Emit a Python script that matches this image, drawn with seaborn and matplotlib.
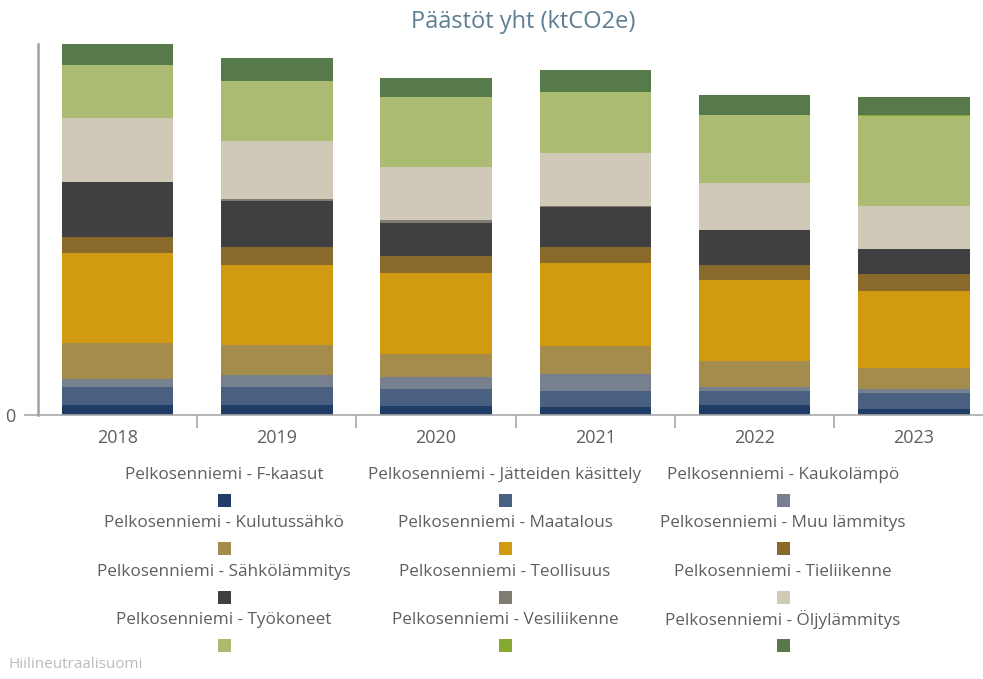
import matplotlib
matplotlib.use("Agg")
import matplotlib.pyplot as plt
import seaborn as sns
import numpy as np
from matplotlib.patches import Rectangle

years = ["2018", "2019", "2020", "2021", "2022", "2023"]

f_kaasut      = [0.97, 0.97, 0.93, 0.77, 0.97, 0.63]
jatteet       = [1.80, 1.80, 1.64, 1.66, 1.46, 1.54]
kaukolampo    = [0.86, 1.20, 1.26, 1.67, 0.34, 0.40]
kulutussahko  = [3.54, 3.00, 2.24, 2.83, 2.66, 2.13]
maatalous     = [9.06, 8.00, 8.16, 8.24, 8.07, 7.73]
muu_lammitys  = [1.60, 1.86, 1.67, 1.66, 1.50, 1.67]
sahkolammitys = [5.44, 4.55, 3.30, 4.00, 3.50, 2.47]
teollisuus    = [0.05, 0.25, 0.30, 0.10, 0.05, 0.05]
tieliikenne   = [6.40, 5.77, 5.33, 5.24, 4.67, 4.33]
tyokoneet     = [5.30, 6.00, 6.94, 6.16, 6.76, 9.00]
vesiliikenne  = [0.02, 0.02, 0.02, 0.02, 0.02, 0.02]
oljylammitys  = [2.10, 2.27, 1.96, 2.17, 2.00, 1.87]

series_names = [
    "Pelkosenniemi - F-kaasut", "Pelkosenniemi - Jätteiden käsittely", "Pelkosenniemi - Kaukolämpö",
    "Pelkosenniemi - Kulutussähkö", "Pelkosenniemi - Maatalous", "Pelkosenniemi - Muu lämmitys",
    "Pelkosenniemi - Sähkölämmitys", "Pelkosenniemi - Teollisuus", "Pelkosenniemi - Tieliikenne",
    "Pelkosenniemi - Työkoneet", "Pelkosenniemi - Vesiliikenne", "Pelkosenniemi - Öljylämmitys",
]
series_values = [f_kaasut, jatteet, kaukolampo, kulutussahko, maatalous, muu_lammitys,
                 sahkolammitys, teollisuus, tieliikenne, tyokoneet, vesiliikenne, oljylammitys]
series_colors = ["#1f3d66", "#4a6080", "#76808e", "#a38c4c", "#d19a10", "#8a6a2a",
                 "#404042", "#7f7a72", "#d1c9b8", "#abbb72", "#86aa30", "#577a4a"]

sns.set_theme(style="white")
plt.rcParams['font.family'] = ['Open Sans', 'DejaVu Sans']

W, H = 983, 679
fig = plt.figure(figsize=(W / 100, H / 100), dpi=100)
ax = fig.add_axes([38 / W, 264 / H, (993.5 - 38) / W, 371 / H])

bottom = np.zeros(len(years))
for name, vals, col in zip(series_names, series_values, series_colors):
    sns.barplot(x=years, y=vals, bottom=bottom, color=col, saturation=1,
                width=0.7, ax=ax, linewidth=0)
    bottom = bottom + np.array(vals)

ax.set_xlim(-0.5, 5.5)
ax.set_ylim(0, 37.1)
ax.set_xlabel("")
ax.set_ylabel("")

for s in ["top", "right"]:
    ax.spines[s].set_visible(False)
ax.spines["left"].set_color("#a0a0a0")
ax.spines["left"].set_linewidth(1.8)
ax.spines["bottom"].set_color("#a8a8a8")
ax.spines["bottom"].set_linewidth(1.2)

text_col = "#605e5c"
ax.set_yticks([0])
ax.set_yticklabels(["0"], color=text_col, fontsize=13)
ax.tick_params(axis="y", length=10, width=1.2, color="#a8a8a8", direction="out", pad=6, left=True)

ax.set_xticks(range(len(years)))
ax.set_xticklabels(years, color=text_col, fontsize=13)
ax.set_xticks(np.arange(0.5, 5.5, 1), minor=True)
ax.tick_params(axis="x", which="major", length=0, pad=10)
ax.tick_params(axis="x", which="minor", length=9, width=1.2, color="#a8a8a8", direction="out", bottom=True)

fig.text(523 / W, 1 - 22 / H, "Päästöt yht (ktCO2e)", ha="center", va="center",
         fontsize=17, color="#5d7f94")

# legend: 3 columns, text above square marker
col_x = [224, 505, 783]
row_text_y = [475, 523, 572, 620]
row_mark_y = [500, 548, 597, 645]
msize = 13
for i, (name, col) in enumerate(zip(series_names, series_colors)):
    r, c = divmod(i, 3)
    fig.text(col_x[c] / W, 1 - row_text_y[r] / H, name, ha="center", va="center",
             fontsize=12.3, color=text_col)
    fig.patches.append(Rectangle(((col_x[c] - msize / 2) / W, 1 - (row_mark_y[r] + msize / 2) / H),
                                 msize / W, msize / H, transform=fig.transFigure,
                                 facecolor=col, edgecolor="none"))

fig.text(8 / W, 1 - 664 / H, "Hiilineutraalisuomi", ha="left", va="center",
         fontsize=11, color="#bbbbbb")

fig.savefig("out.png", dpi=100)
